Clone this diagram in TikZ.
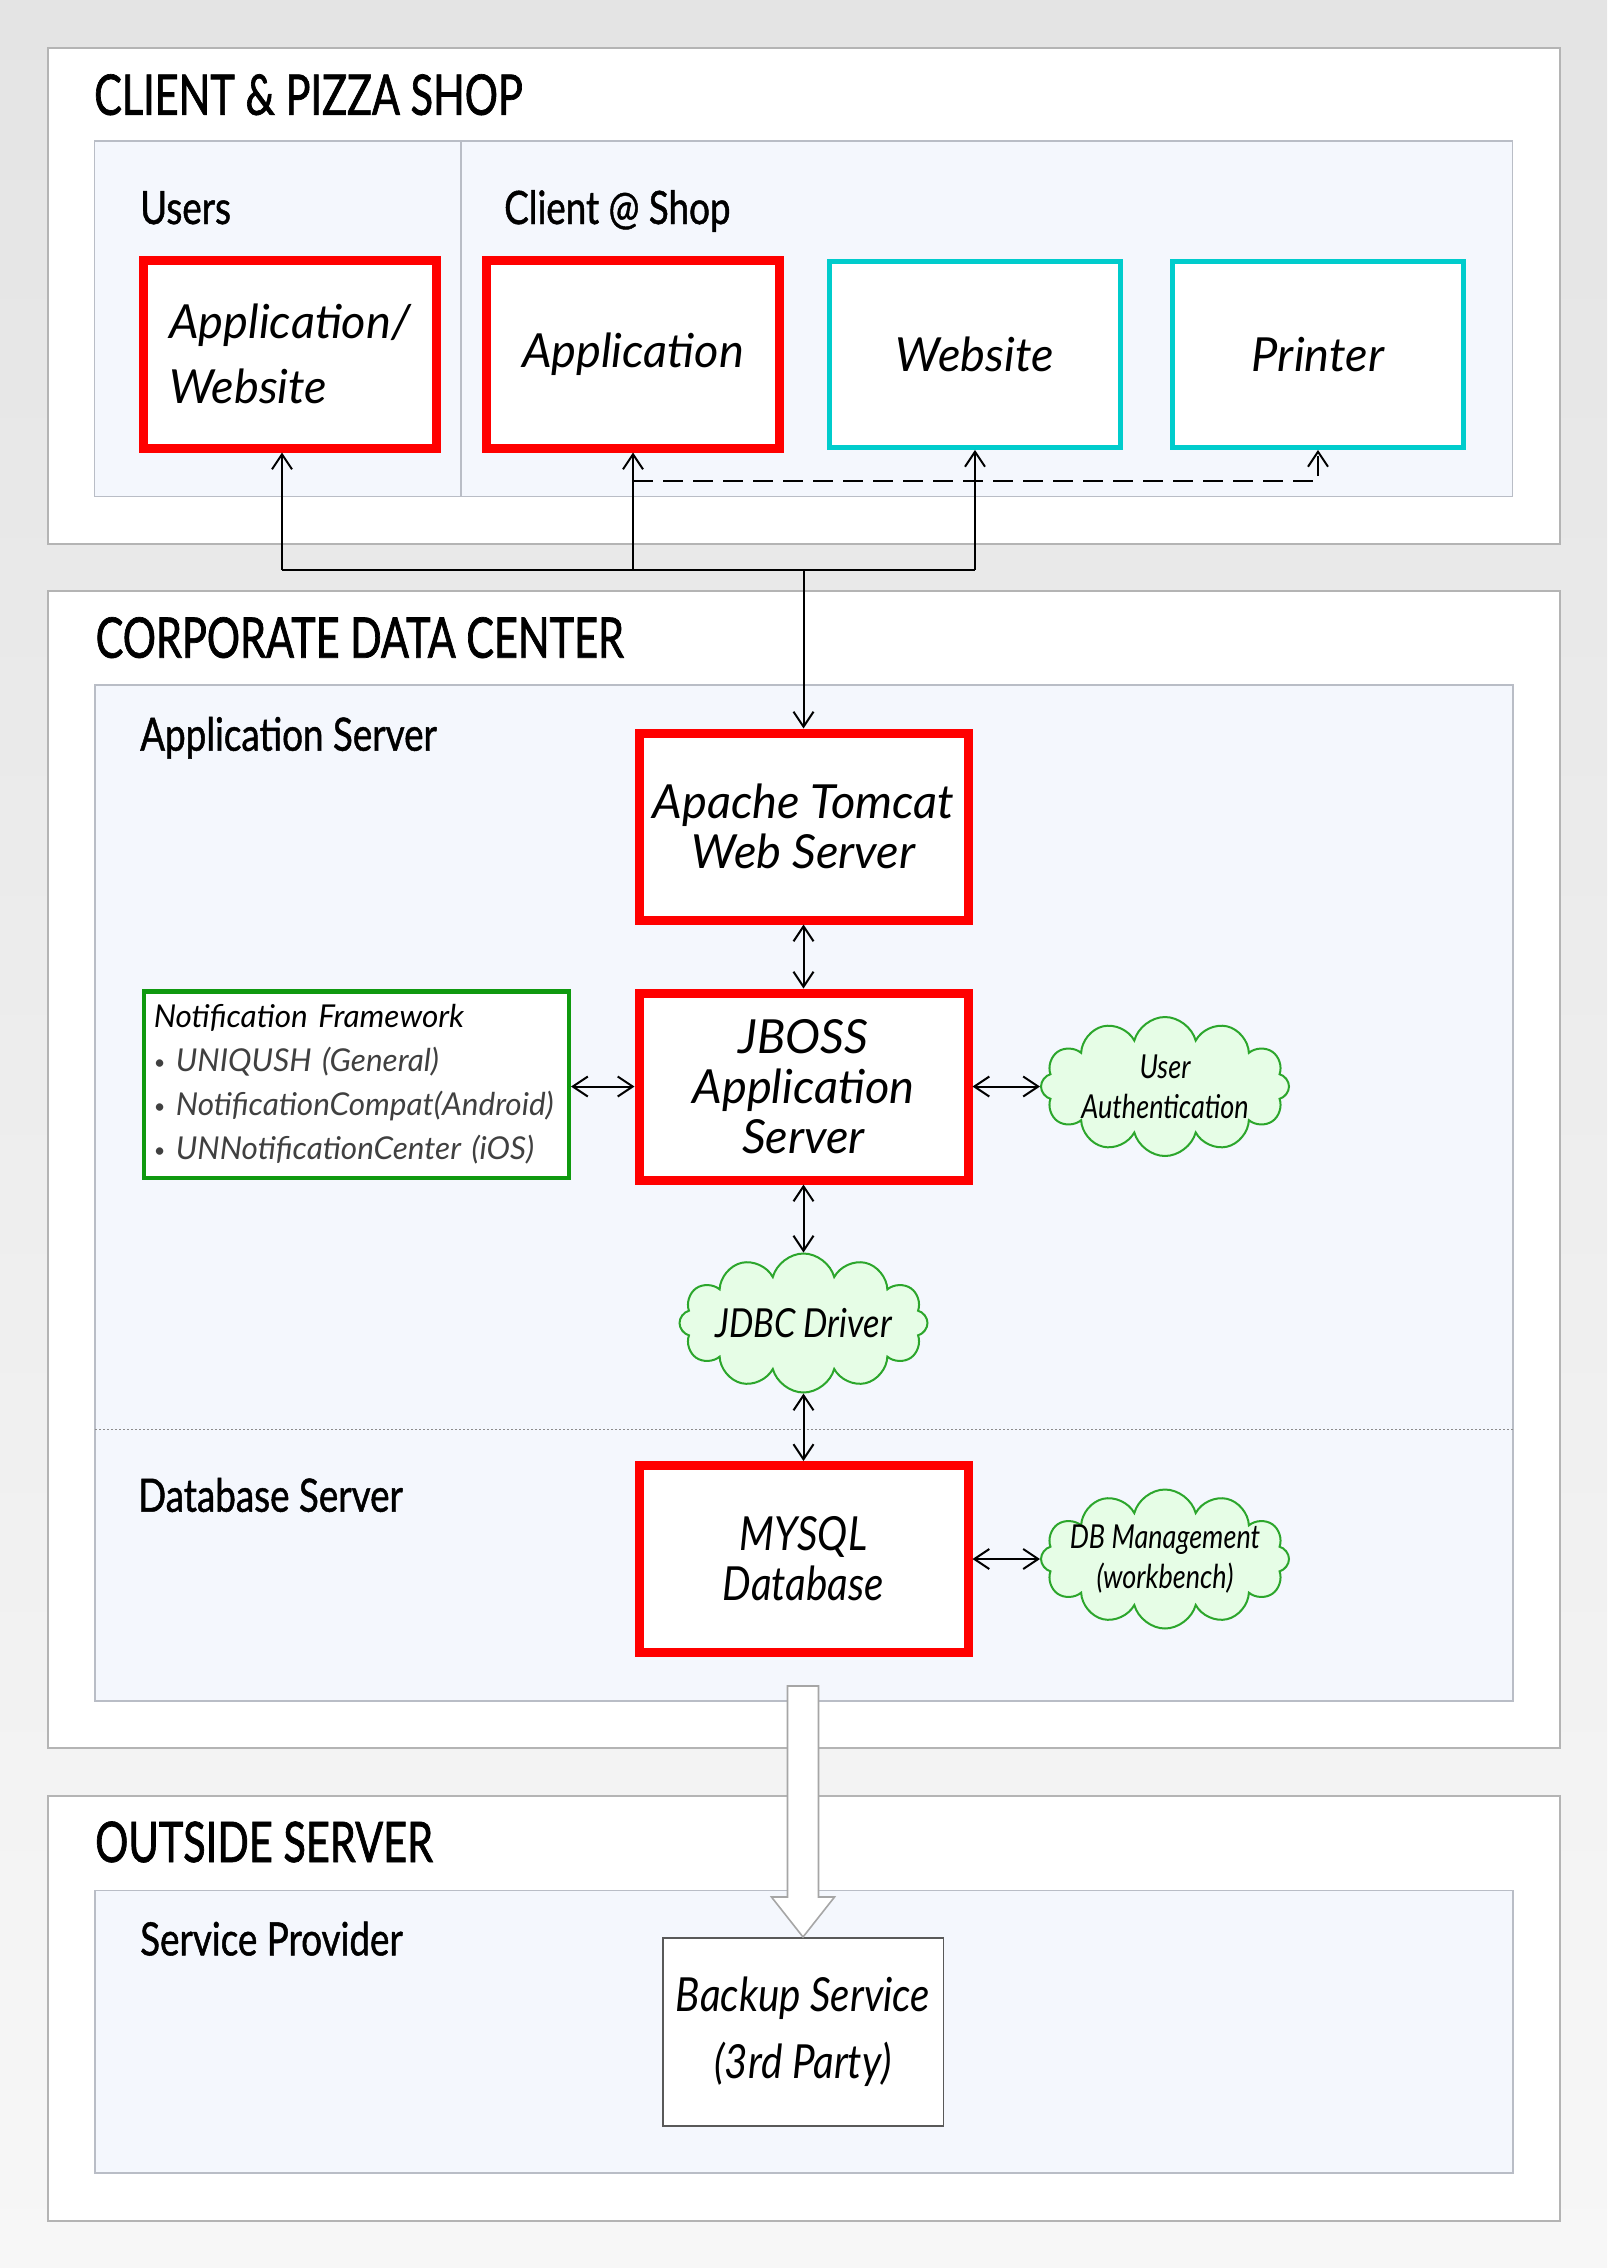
\documentclass[tikz,border=0pt]{standalone}
\usepackage{fontspec}
\setmainfont{Lato}
\newfontfamily\ttlfont[FakeStretch=0.74,FakeBold=1.2]{Lato}
\newfontfamily\subfont[FakeStretch=0.80,FakeBold=1.0]{Lato}
\newfontfamily\boxfont{Lato}
\newfontfamily\narrowfont[FakeStretch=0.86]{Lato}
\newfontfamily\cldfont[FakeStretch=0.82]{Lato}
\newfontfamily\notefont[FakeStretch=1.0]{Lato}
\usetikzlibrary{arrows.meta,shapes.symbols,calc}
\definecolor{panelfill}{HTML}{F4F7FD}
\definecolor{panelline}{HTML}{B9BDC6}
\definecolor{boxline}{HTML}{B4B4B4}
\definecolor{cyanline}{HTML}{00CCCC}
\definecolor{greenline}{HTML}{0F990F}
\definecolor{cloudfill}{HTML}{E6FDE6}
\definecolor{cloudline}{HTML}{2CA62C}
\definecolor{bgtop}{HTML}{E4E4E4}
\definecolor{bgbot}{HTML}{F7F7F7}
\newcommand{\cl}[1]{\makebox[0pt]{#1}}
\newcommand{\bul}{{\upshape\fontsize{20}{20}\selectfont\raisebox{2pt}{\textbullet}}\ }
\begin{document}
\begin{tikzpicture}[x=1pt,y=-1pt,
  outerbox/.style={draw=boxline,line width=2pt,fill=white},
  panel/.style={draw=panelline,line width=1.6pt,fill=panelfill},
  ttl/.style={anchor=base west,inner sep=0pt,font=\ttlfont\fontsize{56}{60}\selectfont},
  sub/.style={anchor=base west,inner sep=0pt,font=\subfont\fontsize{46}{50}\selectfont},
  redbox/.style={draw=red,line width=9pt,fill=white,minimum width=329pt,minimum height=187pt,
    inner sep=0pt,align=center,font=\boxfont\itshape\fontsize{47}{50}\selectfont},
  cyanbox/.style={draw=cyanline,line width=5pt,fill=white,minimum width=291pt,minimum height=186pt,
    inner sep=0pt,align=center,font=\boxfont\itshape\fontsize{47}{50}\selectfont},
  notebox/.style={draw=greenline,line width=4.5pt,fill=white,minimum width=425pt,minimum height=186.5pt,
    text width=405pt,inner xsep=10pt,inner ysep=0pt,align=left,font=\notefont\itshape\fontsize{31.5}{44}\selectfont},
  cloudn/.style={cloud,cloud puffs=12,cloud ignores aspect,draw=cloudline,fill=cloudfill,line width=2pt,
    minimum width=248pt,minimum height=139pt,inner sep=0pt,align=center,
    font=\cldfont\itshape\fontsize{33}{40}\selectfont},
  backupbox/.style={draw=black!65,line width=1.5pt,fill=white,minimum width=280.5pt,minimum height=188pt,
    inner sep=0pt,align=center,font=\narrowfont\itshape\fontsize{47}{67}\selectfont},
  conn/.style={line width=2pt,draw=black},
  arr/.style={-{Straight Barb[length=15pt,width=20pt]}},
  darr/.style={{Straight Barb[length=15pt,width=20pt]}-{Straight Barb[length=15pt,width=20pt]}},
  sepline/.style={draw=black!45,line width=1.4pt,dash pattern=on 2pt off 2pt},
  hollow/.style={draw=black!35,line width=1.6pt,fill=white}]
\useasboundingbox (0,0) rectangle (1607,2268);
\shade[top color=bgtop,bottom color=bgbot] (0,0) rectangle (1607,2268);
% containers
\draw[outerbox] (47.5,47.5) rectangle (1559.5,543.5);
\draw[outerbox] (47.5,590.7) rectangle (1559.5,1748);
\draw[outerbox] (47.5,1795.6) rectangle (1559.5,2220.5);
\draw[panel] (94.5,141) rectangle (1512.5,496.5);
\draw[panelline,line width=1.6pt] (461,141) -- (461,496.5);
\draw[panel] (95,685) rectangle (1513,1701);
\draw[sepline] (95,1429.3) -- (1513,1429.3);
\draw[panel] (95,1890.5) rectangle (1513,2173);
% titles
\node[ttl] (t1) at (94,114.8) {CLIENT \& PIZZA SHOP};
\node[ttl] (t2) at (95.5,657.7) {CORPORATE DATA CENTER};
\node[ttl] (t3) at (95,1862) {OUTSIDE SERVER};
\node[sub] (s1) at (140,224) {Users};
\node[sub] (s2) at (504,224) {Client @ Shop};
\node[sub] (s3) at (140,750.7) {Application Server};
\node[sub] (s4) at (138,1511.7) {Database Server};
\node[sub] (s5) at (140,1955.4) {Service Provider};
% top row
\node[redbox,minimum width=293pt,minimum height=188pt,align=left,
  font=\boxfont\itshape\fontsize{47}{65}\selectfont] (uapp) at (290,354) {Application/\\Website};
\node[redbox,minimum width=293pt,minimum height=188pt] (capp) at (633,354) {Application};
\node[cyanbox] (web) at (975,354.4) {Website};
\node[cyanbox] (prn) at (1318,354.4) {Printer};
% data center
\node[redbox] (tomcat) at (803.5,826.5) {Apache Tomcat\\Web Server};
\node[redbox] (jboss) at (803.5,1086.5) {JBOSS\\Application\\Server};
\node[redbox,font=\narrowfont\itshape\fontsize{47}{50}\selectfont] (mysql) at (803.5,1559) {MYSQL\\Database};
\node[notebox] (notif) at (356.25,1084.5) {Notification Framework\\
  \textcolor{black!75}{\bul UNIQUSH (General)}\\
  \textcolor{black!75}{\bul NotificationCompat(Android)}\\
  \textcolor{black!75}{\bul UNNotificationCenter (iOS)}};
\node[cloudn] (auth) at (1165,1086.5) {\cl{User}\\\cl{Authentication}};
\node[cloudn,font=\narrowfont\itshape\fontsize{40}{44}\selectfont] (jdbc) at (803.5,1323) {\cl{JDBC Driver}};
\node[cloudn] (dbm) at (1165,1559) {\cl{DB Management}\\\cl{(workbench)}};
% outside
\node[backupbox] (backup) at (803,2031.75) {Backup Service\\(3rd Party)};
% connectors
\coordinate (busL) at (282,570);
\coordinate (busM) at (803.5,570);
\coordinate (busR) at (975,570);
\coordinate (dsh) at (633,481);
\draw[conn] (busL) -- (busR);
\draw[conn,arr] (busL) -- (busL |- uapp.south);
\draw[conn,arr] (capp.south |- busM) -- (capp.south);
\draw[conn,arr] (busR) -- (web.south);
\draw[conn,arr] (busM) -- (tomcat.north);
\draw[conn,arr,dash pattern=on 20pt off 10pt] (dsh) -| (prn.south);
\draw[conn,darr] (tomcat) -- (jboss);
\draw[conn,darr] (jboss) -- (jdbc);
\draw[conn,darr] (jdbc) -- (mysql);
\draw[conn,darr] (notif.east |- jboss.west) -- (jboss.west);
\draw[conn,darr] (jboss) -- (auth);
\draw[conn,darr] (mysql) -- (dbm);
% hollow arrow to backup
\draw[hollow] (backup.north) -- ++(-31.5,-40) -- ++(16,0) -- ++(0,-211) -- ++(31,0) -- ++(0,211) -- ++(16,0) -- cycle;
\end{tikzpicture}
\end{document}
